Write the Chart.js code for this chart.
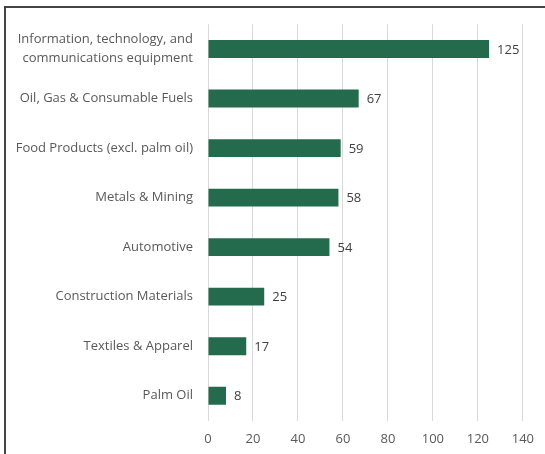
<!DOCTYPE html>
<html>
<head>
<meta charset="utf-8">
<script src="https://cdn.jsdelivr.net/npm/chart.js@4"></script>
<style>
  body { margin: 0; background: #fff; }
  #wrap { position: relative; width: 545px; height: 454px; overflow: hidden; }
  #frame { position: absolute; left: 4px; top: 6px; width: 600px; height: 500px;
           border-top: 2px solid #444; border-left: 2px solid #444; }
  canvas { position: absolute; left: 0; top: 0; }
</style>
</head>
<body>
<div id="wrap">
  <div id="frame"></div>
  <canvas id="chart" width="545" height="454"></canvas>
</div>
<script>
const categories = [
  ["Information, technology, and", "communications equipment"],
  "Oil, Gas & Consumable Fuels",
  "Food Products (excl. palm oil)",
  "Metals & Mining",
  "Automotive",
  "Construction Materials",
  "Textiles & Apparel",
  "Palm Oil"
];
const values = [125, 67, 59, 58, 54, 25, 17, 8];
const xTicks = [0, 20, 40, 60, 80, 100, 120, 140];

const fontFamily = "'Open Sans', 'Noto Sans', sans-serif";
const textColor = "#595959";

// value labels at the end of each bar
const barLabels = {
  id: "barLabels",
  afterDatasetsDraw(chart) {
    const ctx = chart.ctx;
    const meta = chart.getDatasetMeta(0);
    ctx.save();
    ctx.font = "13px " + fontFamily;
    ctx.fillStyle = "#404040";
    ctx.textAlign = "left";
    ctx.textBaseline = "middle";
    meta.data.forEach((bar, i) => {
      ctx.fillText(values[i], bar.x + 8, bar.y + 1);
    });
    ctx.restore();
  }
};

new Chart(document.getElementById("chart"), {
  type: "bar",
  data: {
    labels: categories,
    datasets: [
      {
        data: values,
        backgroundColor: "#246A4D",
        borderWidth: 0,
        barPercentage: 0.72,
        categoryPercentage: 0.5,
      },
    ],
  },
  options: {
    indexAxis: "y",
    responsive: false,
    animation: false,
    layout: { padding: { top: 21, right: 20, left: 0, bottom: 0 } },
    plugins: {
      legend: { display: false },
      tooltip: { enabled: false },
    },
    scales: {
      x: {
        min: 0,
        max: 140,
        afterBuildTicks: (axis) => {
          axis.ticks = xTicks.map((v) => ({ value: v }));
        },
        afterFit: (axis) => { axis.height = 31; },
        grid: { color: "#d9d9d9", drawTicks: false },
        border: { display: false },
        ticks: {
          padding: 11,
          color: textColor,
          font: { family: fontFamily, size: 13 },
        },
      },
      y: {
        afterFit: (axis) => { axis.width = 208; },
        grid: { display: false, drawTicks: false },
        border: { display: false },
        ticks: {
          padding: 15,
          color: textColor,
          font: { family: fontFamily, size: 13, lineHeight: 1.42 },
        },
      },
    },
  },
  plugins: [barLabels],
});
</script>
</body>
</html>
